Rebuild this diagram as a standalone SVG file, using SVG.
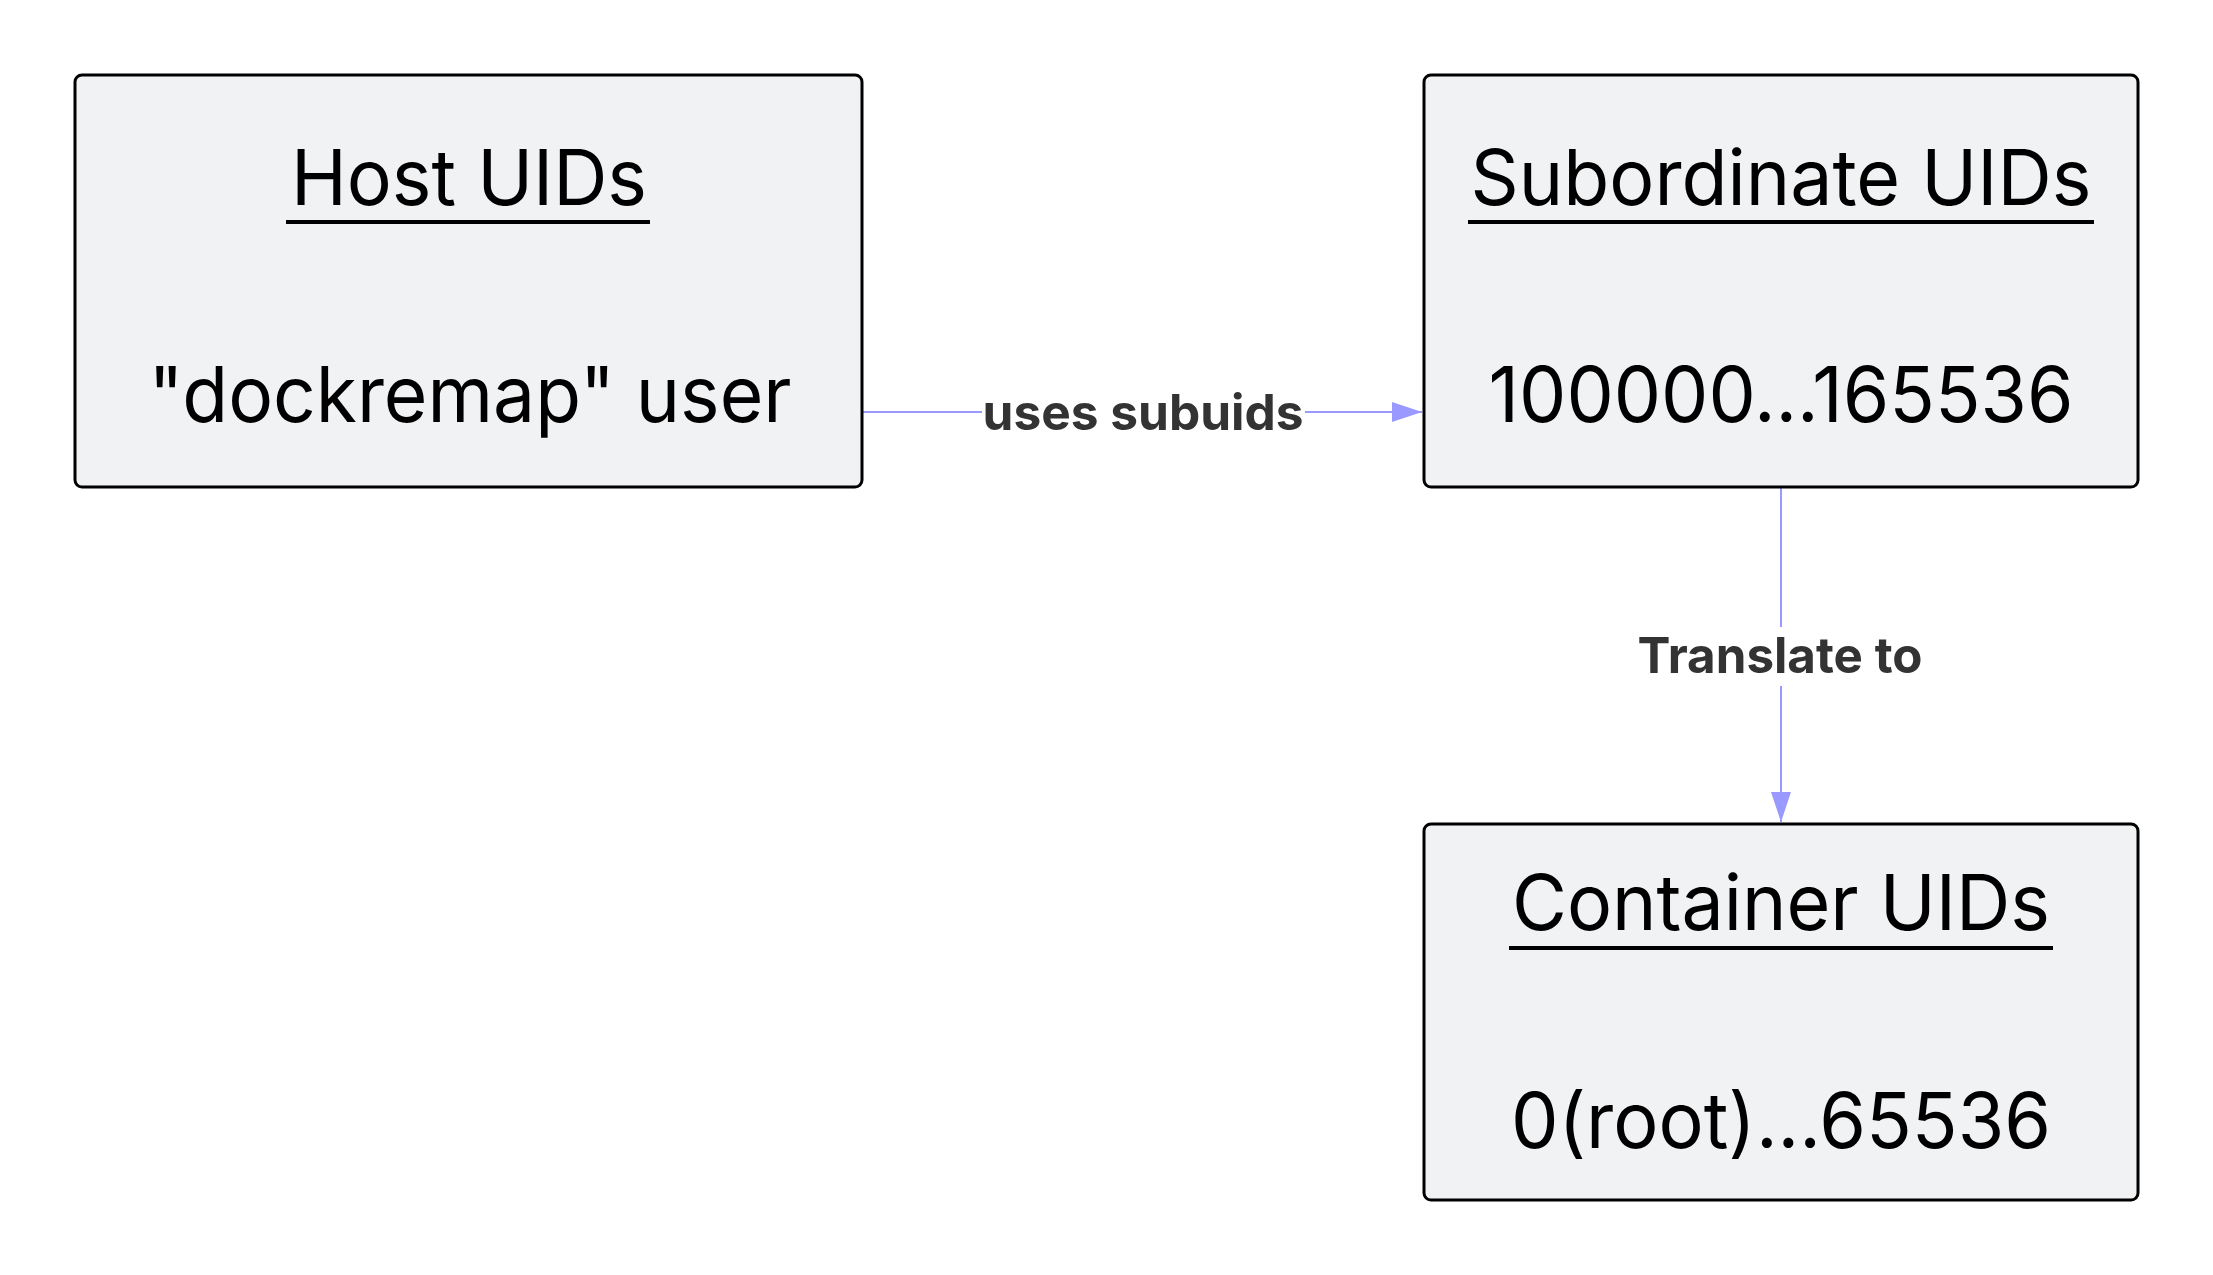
<svg xmlns="http://www.w3.org/2000/svg" width="2213" height="1275" viewBox="0 0 2213 1275">
<style>
.node rect{fill:#f1f2f4;stroke:#000;stroke-width:3}
.t{font-family:Inter,"Noto Sans","Liberation Sans",sans-serif;font-size:77px;fill:#000;text-anchor:middle}
.ul{stroke:#000;stroke-width:4}
.edge{stroke:#9999ff;stroke-width:2;fill:none}
.lbl{font-family:Inter,"Noto Sans","Liberation Sans",sans-serif;font-size:50px;font-weight:bold;fill:#333;text-anchor:middle}
</style>
<defs>
<marker id="arr" viewBox="0 0 30 20" refX="30" refY="10" markerWidth="30" markerHeight="20" markerUnits="userSpaceOnUse" orient="auto">
<path d="M0,0 L30,10 L0,20 Z" fill="#9999ff"/>
</marker>
</defs>
<rect width="2213" height="1275" fill="#fff"/>
<g id="connectors">
<g id="e1">
<path class="edge" d="M862,412 L1422,412" marker-end="url(#arr)"/>
<rect x="982" y="385" width="323" height="56" fill="#fff"/>
<text class="lbl" x="1143" y="430" textLength="321" lengthAdjust="spacingAndGlyphs">uses subuids</text>
</g>
<g id="e2">
<path class="edge" d="M1781,487 L1781,822" marker-end="url(#arr)"/>
<rect x="1634" y="627" width="292" height="59" fill="#fff"/>
<text class="lbl" x="1780" y="673" textLength="285" lengthAdjust="spacingAndGlyphs">Translate to</text>
</g>
</g>
<g id="host" class="node">
<rect x="75" y="75" width="787" height="412" rx="7"/>
<text class="t" x="469" y="205" textLength="356" lengthAdjust="spacingAndGlyphs">Host UIDs</text>
<line class="ul" x1="286" y1="222" x2="650" y2="222"/>
<text class="t" x="470" y="422" textLength="643" lengthAdjust="spacingAndGlyphs">"dockremap" user</text>
</g>
<g id="subordinate" class="node">
<rect x="1424" y="75" width="714" height="412" rx="7"/>
<text class="t" x="1781" y="205" textLength="621" lengthAdjust="spacingAndGlyphs">Subordinate UIDs</text>
<line class="ul" x1="1468" y1="222" x2="2094" y2="222"/>
<text class="t" x="1781" y="422" textLength="585" lengthAdjust="spacingAndGlyphs">100000...165536</text>
</g>
<g id="container" class="node">
<rect x="1424" y="824" width="714" height="376" rx="7"/>
<text class="t" x="1781" y="930" textLength="538" lengthAdjust="spacingAndGlyphs">Container UIDs</text>
<line class="ul" x1="1509" y1="948" x2="2053" y2="948"/>
<text class="t" x="1781" y="1148" textLength="540" lengthAdjust="spacingAndGlyphs">0(root)...65536</text>
</g>
</svg>
